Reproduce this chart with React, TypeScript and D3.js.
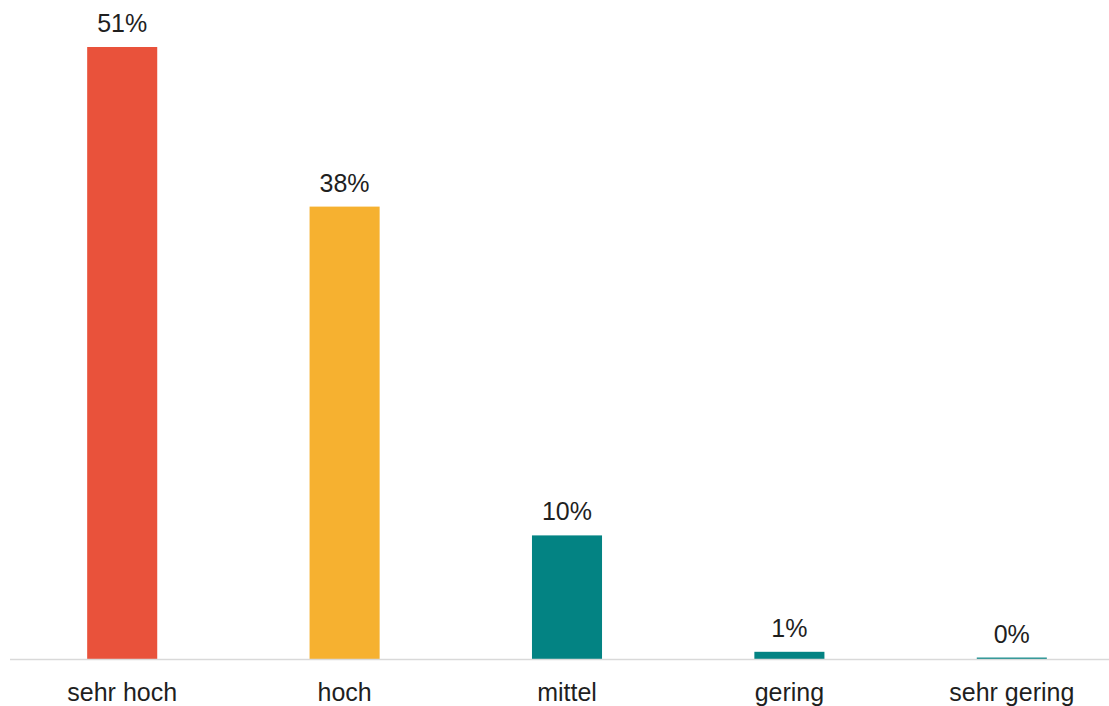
import React from "react";
import * as d3 from "d3";

const categories = ["sehr hoch", "hoch", "mittel", "gering", "sehr gering"];
const values = [51, 37.7, 10.3, 0.6, 0.12];
const labels = ["51%", "38%", "10%", "1%", "0%"];
const colors = ["#E9523B", "#F6B130", "#038383", "#038383", "#038383"];

const W = 1109;
const H = 706;
const baseY = 659;

export default function App() {
  const x = d3.scaleBand<string>().domain(categories).range([11, 1123]).paddingInner(0.685).paddingOuter(0.3425);
  const y = d3.scaleLinear().domain([0, 51]).range([baseY, 47]);
  const font = "'Liberation Sans', Arial, sans-serif";
  return (
    <svg width={W} height={H} style={{ position: "fixed", left: 0, top: 0, background: "#fff" }}>
      {categories.map((c, i) => {
        const bx = x(c)!;
        const bw = x.bandwidth();
        const top = y(values[i]);
        return (
          <g key={c}>
            <rect x={bx} y={top} width={bw} height={baseY - top} fill={colors[i]} />
            <text x={bx + bw / 2} y={top - 15} textAnchor="middle" fontFamily={font} fontSize={25} fill="#1f1f1f">
              {labels[i]}
            </text>
            <text x={bx + bw / 2} y={701} textAnchor="middle" fontFamily={font} fontSize={25} fill="#1f1f1f">
              {c}
            </text>
          </g>
        );
      })}
      <line x1={10} x2={W} y1={baseY + 0.5} y2={baseY + 0.5} stroke="#D9D9D9" strokeWidth={1.5} />
    </svg>
  );
}
